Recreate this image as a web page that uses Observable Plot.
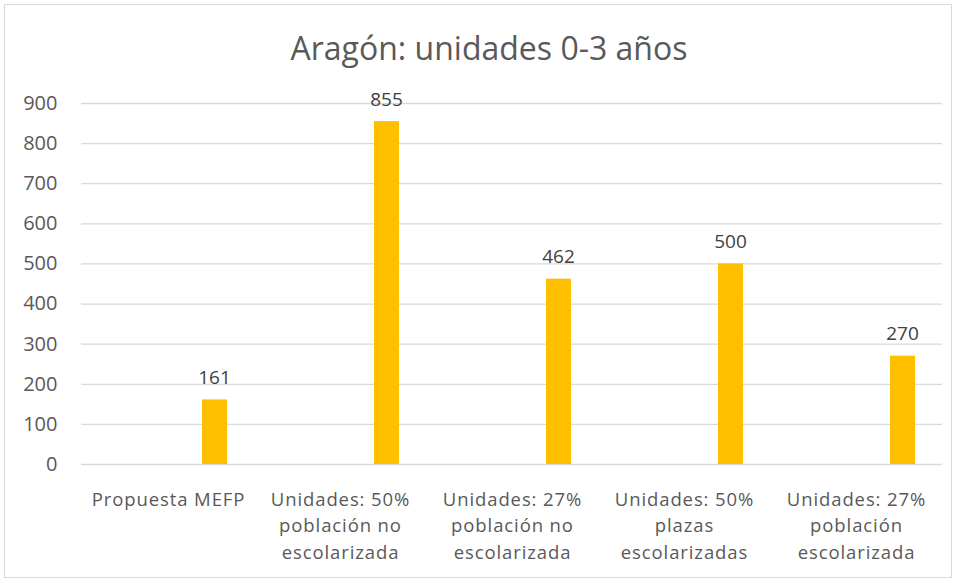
<!DOCTYPE html>
<html>
<head>
<meta charset="utf-8">
<script src="https://cdn.jsdelivr.net/npm/d3@7"></script>
<script src="https://cdn.jsdelivr.net/npm/@observablehq/plot@0.6"></script>
<style>
  html, body { margin: 0; padding: 0; background: #fff; }
  #wrap { position: relative; width: 958px; height: 583px; }
  #frame { position: absolute; left: 4px; top: 4px; width: 948px; height: 574px; border: 1.5px solid #d9d9d9; box-sizing: border-box; pointer-events: none; }
  g[aria-label="y-axis tick label"] { font-size: 20px; }
  g[aria-label="x-axis tick label"] { font-size: 18.5px; letter-spacing: 0.9px; }
</style>
</head>
<body>
<div id="wrap"><div id="frame"></div></div>
<script>
const categories = [
  "Propuesta MEFP",
  "Unidades: 50%\npoblación no\nescolarizada",
  "Unidades: 27%\npoblación no\nescolarizada",
  "Unidades: 50%\nplazas\nescolarizadas",
  "Unidades: 27%\npoblación\nescolarizada"
];
const values = [161, 855, 462, 500, 270];
const yTicks = [0, 100, 200, 300, 400, 500, 600, 700, 800, 900];
const title = "Aragón: unidades 0-3 años";

const data = categories.map((c, i) => ({category: c, value: values[i]}));
const font = "'Open Sans', sans-serif";

const chart = Plot.plot({
  width: 958,
  height: 583,
  marginLeft: 81,
  marginRight: 16,
  marginTop: 103,
  marginBottom: 119,
  style: {fontFamily: font, background: "transparent", overflow: "visible"},
  x: {domain: categories, padding: 0, label: null},
  y: {domain: [0, 900], ticks: yTicks, label: null},
  marks: [
    Plot.gridY(yTicks, {stroke: "#d9d9d9", strokeOpacity: 1, strokeWidth: 1.3}),
    Plot.axisY(yTicks, {tickSize: 0, tickPadding: 24, fontSize: 20, fill: "#595959", label: null}),
    Plot.axisX({tickSize: 0, tickPadding: 22, fontSize: 18.5, fill: "#595959", lineHeight: 1.45, label: null}),
    Plot.barY(data, {x: "category", y: "value", fill: "#FFC000", insetLeft: 120, insetRight: 27}),
    Plot.text(data, {x: "category", y: "value", text: d => String(d.value), dx: 46, dy: -22, fontSize: 19, fill: "#404040"}),
    Plot.text([title], {frameAnchor: "top", dy: -66, dx: -23, text: d => d, fontSize: 32, fill: "#595959"})
  ]
});
document.getElementById("wrap").appendChild(chart);
</script>
</body>
</html>
